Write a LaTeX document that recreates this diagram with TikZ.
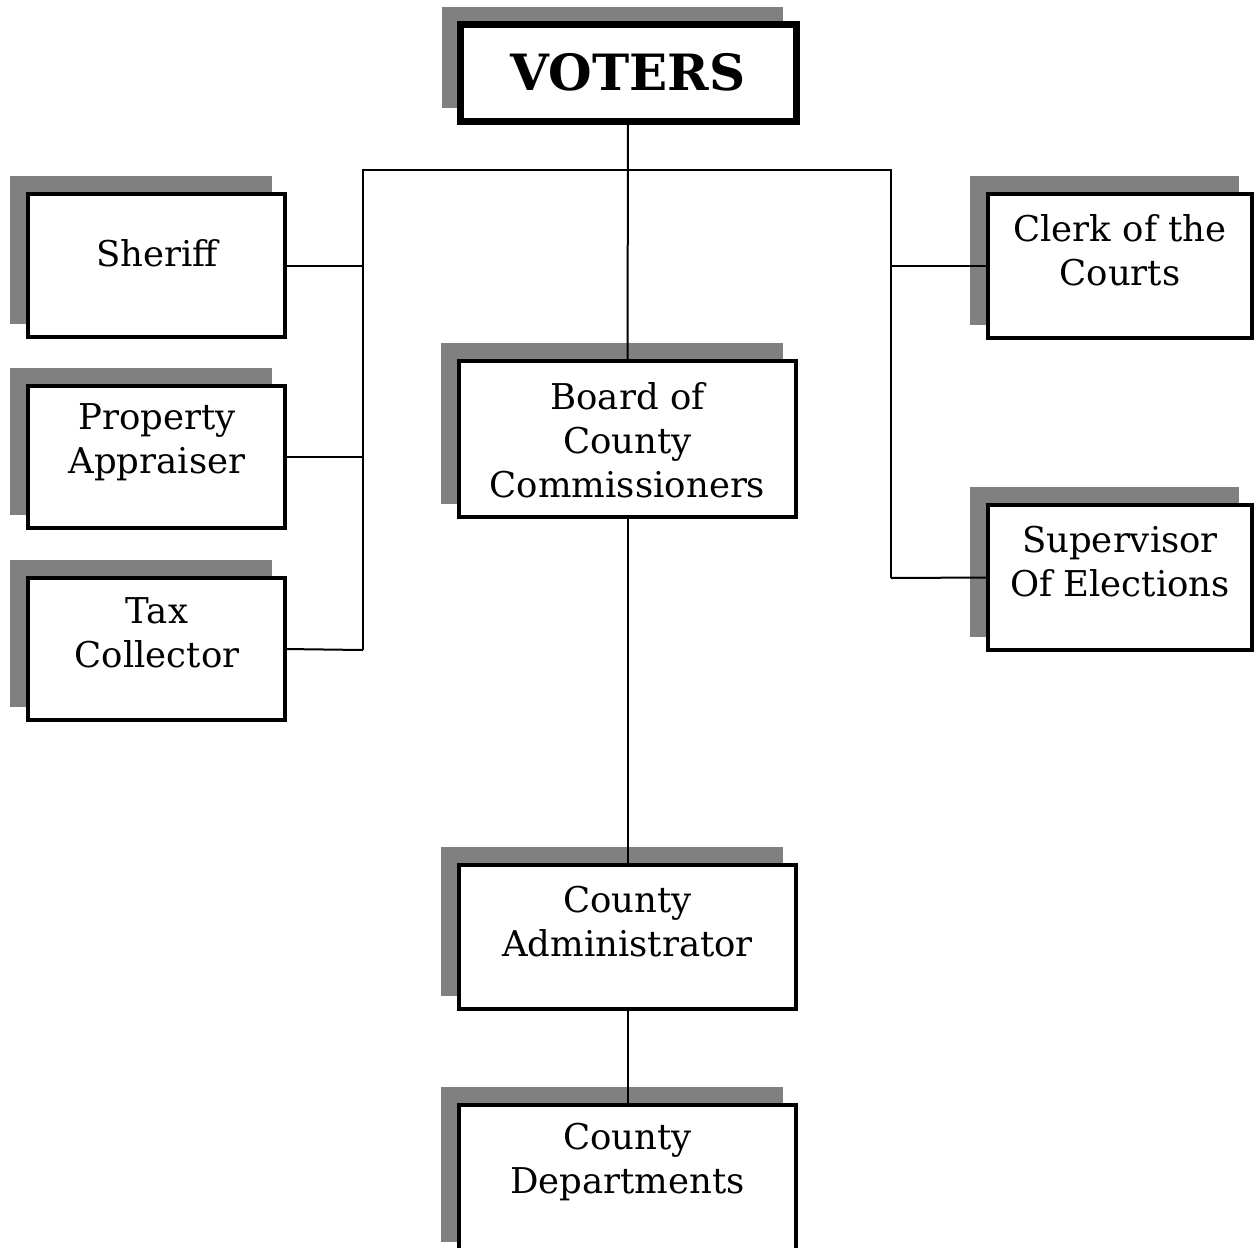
\documentclass[tikz,border=0pt]{standalone}
\usepackage{fontspec}
\setmainfont{DejaVu Serif}
\usetikzlibrary{backgrounds}
\definecolor{shadowgray}{RGB}{128,128,128}
\tikzset{
  orgbox/.style={draw=black, fill=white, line width=4pt, inner sep=0pt, outer sep=0pt, rectangle},
  orgtext/.style={align=center, inner sep=0pt, font=\fontsize{35.5}{44}\selectfont},
  conn/.style={draw=black, line width=2pt},
}
\newcommand{\orgshadow}[1]{%
  \fill[shadowgray] ([shift={(-18,-18)}]#1.north west) rectangle ([shift={(-13,-13)}]#1.south east);}
\begin{document}
\begin{tikzpicture}[x=1pt,y=-1pt]
\useasboundingbox (0,0) rectangle (1255,1247);
% boxes
\path (628,73) node[orgbox, line width=7pt, minimum width=336pt, minimum height=96pt] (voters) {};
\path (156.5,265.5) node[orgbox, minimum width=257pt, minimum height=143pt] (sheriff) {};
\path (156.5,457) node[orgbox, minimum width=257pt, minimum height=142pt] (prop) {};
\path (156.5,649) node[orgbox, minimum width=257pt, minimum height=142pt] (tax) {};
\path (1120,266) node[orgbox, minimum width=264pt, minimum height=144pt] (clerk) {};
\path (1120,577.5) node[orgbox, minimum width=264pt, minimum height=145pt] (super) {};
\path (627.5,439) node[orgbox, minimum width=337pt, minimum height=156pt] (board) {};
\path (627.5,937) node[orgbox, minimum width=337pt, minimum height=144pt] (admin) {};
\path (627.5,1180) node[orgbox, minimum width=337pt, minimum height=150pt] (dept) {};
% shadows
\begin{scope}[on background layer]
\orgshadow{voters}
\orgshadow{sheriff}
\orgshadow{prop}
\orgshadow{tax}
\orgshadow{clerk}
\orgshadow{super}
\orgshadow{board}
\orgshadow{admin}
\orgshadow{dept}
\end{scope}
% texts
\node[align=center, inner sep=0pt, font=\fontsize{50}{60}\selectfont\bfseries] (tvoters) at (628,72) {VOTERS};
\node[orgtext] (tsheriff) at (157,253) {Sheriff};
\node[orgtext] (tprop) at (157,442) {Property\\Appraiser};
\node[orgtext] (ttax) at (157,633) {Tax\\Collector};
\node[orgtext] (tclerk) at (1120,250) {Clerk of the\\Courts};
\node[orgtext] (tsuper) at (1120,562) {Supervisor\\Of Elections};
\node[orgtext] (tboard) at (627.5,440) {Board of\\County\\Commissioners};
\node[orgtext] (tadmin) at (627.5,922) {County\\Administrator};
\node[orgtext] (tdept) at (627.5,1162) {County\\Departments};
% connectors
\coordinate (lt) at (363,170);
\coordinate (lb) at (363,650);
\coordinate (rt) at (891,170);
\coordinate (rb) at (891,578);
\draw[conn] (voters.south) -- (board.north);
\draw[conn] (lb) -- (lt) -- (rt) -- (rb);
\draw[conn] (sheriff.east) -- (sheriff.east -| lt);
\draw[conn] (prop.east) -- (prop.east -| lt);
\draw[conn] (tax.east) -- (lb);
\draw[conn] (clerk.west -| rt) -- (clerk.west);
\draw[conn] (rb) -- (super.west);
\draw[conn] (board.south) -- (admin.north);
\draw[conn] (admin.south) -- (dept.north);
\end{tikzpicture}
\end{document}
